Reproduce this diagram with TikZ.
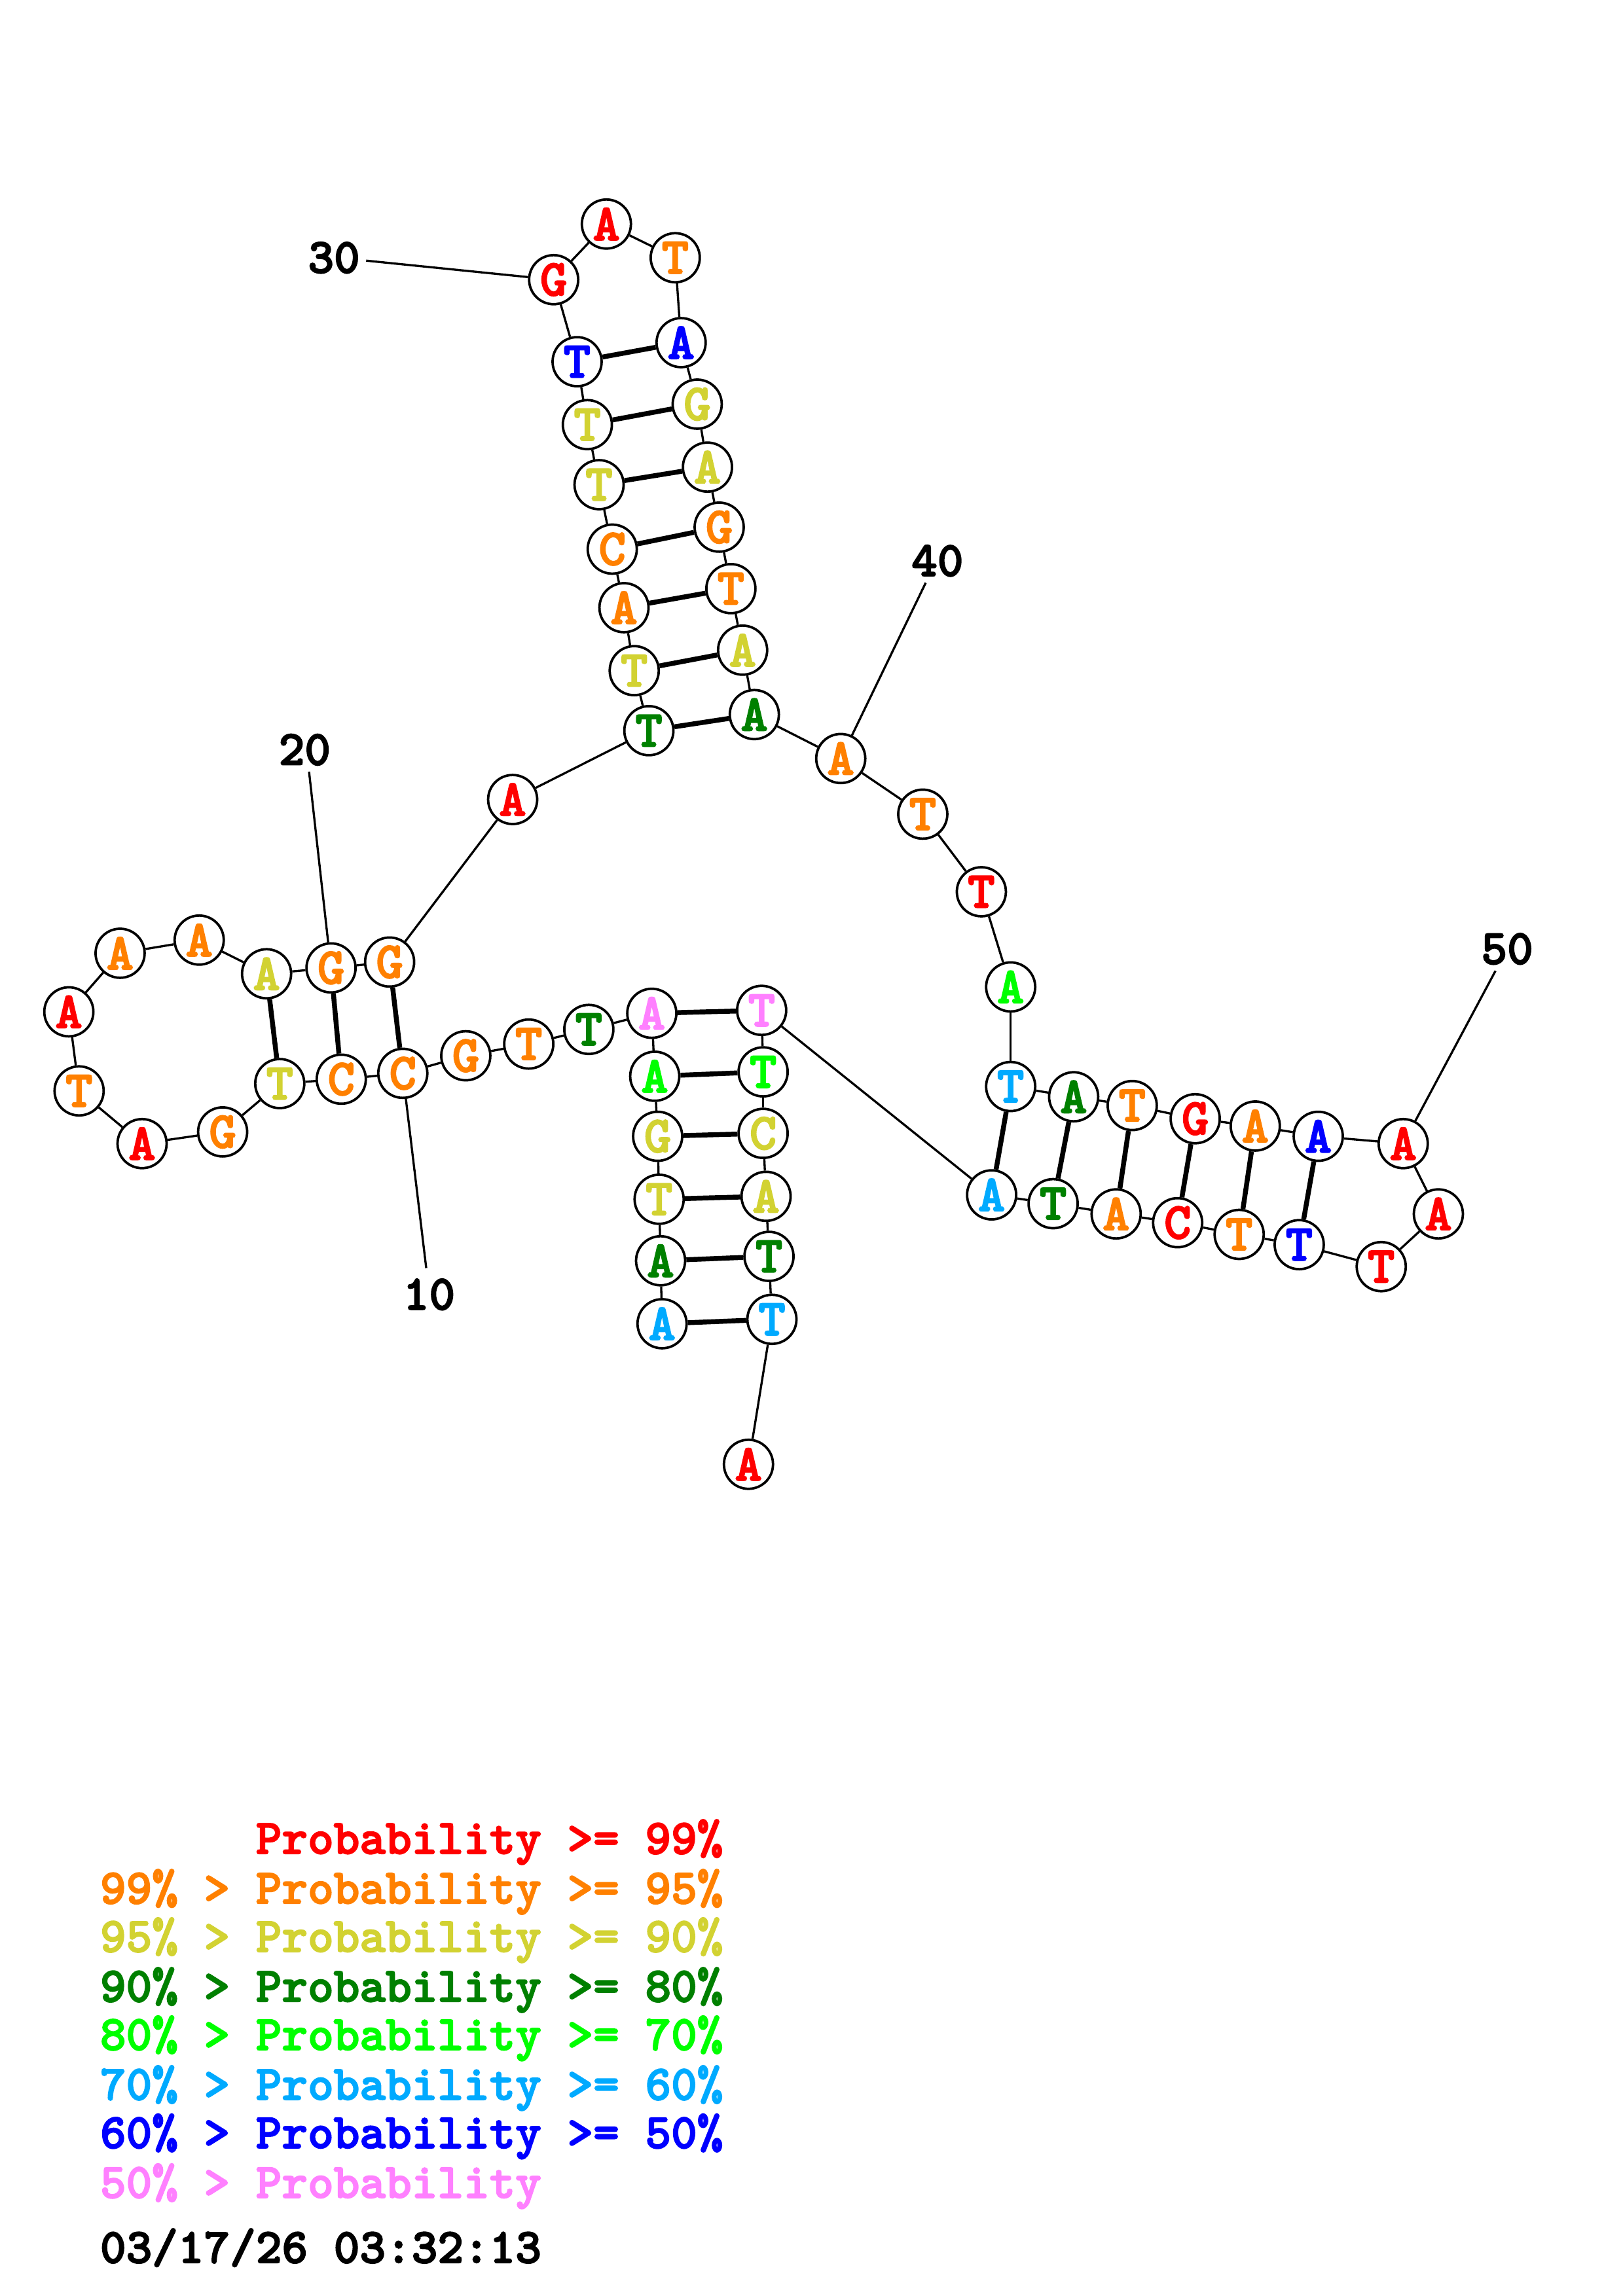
\documentclass[tikz,border=0pt]{standalone}
\usepackage{tikz}
\usepackage{fontspec}
\newfontfamily\rnafont{lmmonolt10-bold.otf}[FakeBold=2.5]
\definecolor{cRd}{RGB}{255,0,0}
\definecolor{cOr}{RGB}{255,128,0}
\definecolor{cYl}{RGB}{210,210,50}
\definecolor{cDg}{RGB}{0,128,0}
\definecolor{cBg}{RGB}{0,255,0}
\definecolor{cLb}{RGB}{0,170,255}
\definecolor{cBl}{RGB}{0,0,255}
\definecolor{cPk}{RGB}{255,128,255}
\begin{document}
\begin{tikzpicture}[x=0.018953cm,y=-0.018953cm,
  base/.style={circle,draw=black,line width=0.9pt,fill=white,minimum size=0.635cm,inner sep=0pt,font=\rnafont\fontsize{19}{19}\selectfont},
  bb/.style={line width=0.8pt},
  pr/.style={line width=1.8pt},
  lbl/.style={font=\rnafont\fontsize{18.2}{20}\selectfont},
  leg/.style={font=\rnafont\fontsize{18.2}{20}\selectfont,anchor=west,inner sep=0pt},
  lead/.style={line width=0.8pt}]
\useasboundingbox (0,0) rectangle (1108,1568);
\fill[white] (0,0) rectangle (1108,1568);
\foreach \i/\x/\y/\b/\c in {
 1/452/904/A/Lb, 2/451/861/A/Dg, 3/450/819/T/Yl, 4/449/776/G/Yl, 5/447/735/A/Bg,
 6/445/692/A/Pk, 7/402/703/T/Dg, 8/361/713/T/Or, 9/318/721/G/Or, 10/275/733/C/Or,
 11/233/737/C/Or, 12/191/740/T/Yl, 13/152/773/G/Or, 14/97/781/A/Rd, 15/54/745/T/Or,
 16/47/691/A/Rd, 17/82/651/A/Or, 18/136/642/A/Or, 19/182/665/A/Yl, 20/226/661/G/Or,
 21/266/657/G/Or, 22/350/546/A/Rd, 23/443/499/T/Dg, 24/433/458/T/Yl, 25/426/415/A/Or,
 26/418/375/C/Or, 27/409/331/T/Yl, 28/401/290/T/Yl, 29/394/247/T/Bl, 30/378/191/G/Rd,
 31/414/153/A/Rd, 32/461/176/T/Or, 33/465/234/A/Bl, 34/476/276/G/Yl, 35/483/319/A/Yl,
 36/491/360/G/Or, 37/499/402/T/Or, 38/507/444/A/Yl, 39/515/488/A/Dg, 40/574/518/A/Or,
 41/630/556/T/Or, 42/670/609/T/Rd, 43/690/674/A/Bg, 44/690/742/T/Lb, 45/733/749/A/Dg,
 46/773/755/T/Or, 47/816/764/G/Rd, 48/857/769/A/Or, 49/900/776/A/Bl, 50/958/781/A/Rd,
 51/982/829/A/Rd, 52/943/865/T/Rd, 53/887/850/T/Bl, 54/846/843/T/Or, 55/804/835/C/Rd,
 56/762/829/A/Or, 57/719/822/T/Dg, 58/677/816/A/Lb, 59/520/690/T/Pk, 60/521/732/T/Bg,
 61/521/774/C/Yl, 62/523/817/A/Yl, 63/525/858/T/Dg, 64/527/901/T/Lb, 65/511/1000/A/Rd}
 \node[base,text=c\c] (n\i) at (\x,\y) {\b};
\foreach \i in {1,...,64}{\pgfmathtruncatemacro\j{\i+1}\draw[bb] (n\i) -- (n\j);}
\foreach \a/\b in {1/64,2/63,3/62,4/61,5/60,6/59,10/21,11/20,12/19,23/39,24/38,25/37,26/36,27/35,28/34,29/33,44/58,45/57,46/56,47/55,48/54,49/53}
 \draw[pr] (n\a) -- (n\b);
% position labels
\node[lbl] (t10) at (293,884) {10};
\node[lbl] (t20) at (208,512) {20};
\node[lbl] (t30) at (228,176) {30};
\node[lbl] (t40) at (640,383) {40};
\node[lbl] (t50) at (1029,648) {50};
\coordinate (e10) at (291,866);
\coordinate (e20) at (211,527);
\coordinate (e30) at (250,178);
\coordinate (e40) at (632,398);
\coordinate (e50) at (1021,663);
\draw[lead] (e10) -- (n10);
\draw[lead] (e20) -- (n20);
\draw[lead] (e30) -- (n30);
\draw[lead] (e40) -- (n40);
\draw[lead] (e50) -- (n50);
% legend
\node[leg,text=cRd] (g1) at (68,1258) {\hphantom{99\% > }Probability >= 99\%};
\node[leg,text=cOr] (g2) at (68,1292) {99\% > Probability >= 95\%};
\node[leg,text=cYl] (g3) at (68,1325) {95\% > Probability >= 90\%};
\node[leg,text=cDg] (g4) at (68,1359) {90\% > Probability >= 80\%};
\node[leg,text=cBg] (g5) at (68,1392) {80\% > Probability >= 70\%};
\node[leg,text=cLb] (g6) at (68,1426) {70\% > Probability >= 60\%};
\node[leg,text=cBl] (g7) at (68,1459) {60\% > Probability >= 50\%};
\node[leg,text=cPk] (g8) at (68,1493) {50\% > Probability};
\node[leg,text=black] (g9) at (68,1535) {03/17/26 03:32:13};
\end{tikzpicture}
\end{document}
